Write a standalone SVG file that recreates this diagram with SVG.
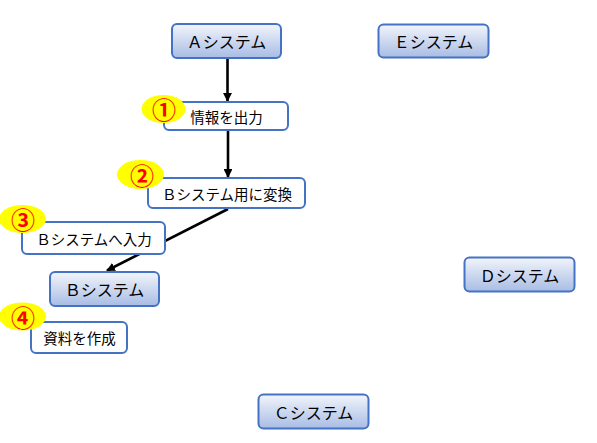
<svg xmlns="http://www.w3.org/2000/svg" width="597" height="443" viewBox="0 0 597 443">
<defs>
<linearGradient id="sysGrad" x1="0" y1="0" x2="0" y2="1">
<stop offset="0" stop-color="#f2f5fb"/>
<stop offset="1" stop-color="#a8bce4"/>
</linearGradient>
<marker id="arr" viewBox="0 0 10 10" refX="9" refY="5" markerWidth="3.4" markerHeight="3.4" orient="auto" markerUnits="strokeWidth">
<path d="M0,0 L10,5 L0,10 Z" fill="#000"/>
</marker>
</defs>
<style>
.sys rect{fill:url(#sysGrad);stroke:#4472c4;stroke-width:2}
.step rect{fill:#fff;stroke:#4472c4;stroke-width:2}
text{font-family:"Noto Sans CJK JP","Noto Sans",sans-serif;fill:#000;text-anchor:middle;dominant-baseline:central}
.sys text{font-size:16px}
.step text{font-size:14.5px}
.badge ellipse{fill:#ffff00}
.badge text{font-size:24px;fill:#ff0000;font-weight:bold}
.conn line{stroke:#000;stroke-width:2.6;marker-end:url(#arr)}
</style>
<rect width="597" height="443" fill="#fff"/>
<g id="connectors" class="conn">
<line x1="227.5" y1="58" x2="227.5" y2="101"/>
<line x1="228" y1="131" x2="228" y2="177"/>
<line x1="228" y1="209" x2="107" y2="270.5"/>
</g>
<g id="sysA" class="sys"><rect x="172" y="24" width="109" height="34" rx="5"/><text x="226.5" y="41">Ａシステム</text></g>
<g id="sysE" class="sys"><rect x="378.5" y="24.5" width="110" height="33" rx="5"/><text x="433.5" y="41">Ｅシステム</text></g>
<g id="sysD" class="sys"><rect x="464.5" y="257.5" width="110" height="34" rx="5"/><text x="519.5" y="274.5">Ｄシステム</text></g>
<g id="sysC" class="sys"><rect x="258.5" y="394.5" width="110" height="34" rx="5"/><text x="313.5" y="411.5">Ｃシステム</text></g>
<g id="sysB" class="sys"><rect x="50" y="272" width="109" height="34" rx="5"/><text x="104.5" y="289">Ｂシステム</text></g>
<g id="step1" class="step"><rect x="164" y="102" width="124" height="28" rx="5"/><text x="226.5" y="116">情報を出力</text></g>
<g id="step2" class="step"><rect x="148" y="178" width="157" height="30" rx="5"/><text x="227" y="193">Ｂシステム用に変換</text></g>
<g id="step3" class="step"><rect x="22" y="222" width="143" height="32" rx="5"/><text x="94" y="238">Ｂシステムへ入力</text></g>
<g id="step4" class="step"><rect x="31" y="322" width="96" height="31" rx="5"/><text x="79.5" y="337.5">資料を作成</text></g>
<g id="badge1" class="badge"><ellipse cx="163.5" cy="109" rx="22" ry="14"/><text x="164" y="108.5">①</text></g>
<g id="badge2" class="badge"><ellipse cx="140.5" cy="174.5" rx="23.5" ry="14.5"/><text x="142" y="174">②</text></g>
<g id="badge3" class="badge"><ellipse cx="22.5" cy="219" rx="23.5" ry="14"/><text x="23" y="218.5">③</text></g>
<g id="badge4" class="badge"><ellipse cx="22.5" cy="316.5" rx="23.5" ry="14"/><text x="23" y="316">④</text></g>
</svg>
